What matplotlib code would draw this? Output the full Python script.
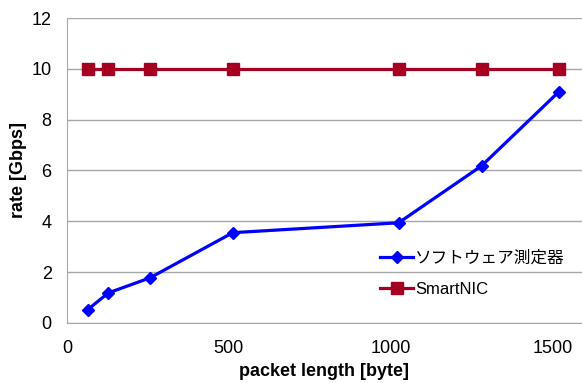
import matplotlib.pyplot as plt

plt.rcParams['font.family'] = ['Liberation Sans', 'Noto Sans CJK JP', 'DejaVu Sans']

# data
packet_len = [64, 128, 256, 512, 1024, 1280, 1518]
software = [0.52, 1.18, 1.77, 3.55, 3.94, 6.18, 9.09]
smartnic = [10, 10, 10, 10, 10, 10, 10]
x_ticks = [0, 500, 1000, 1500]
y_ticks = [0, 2, 4, 6, 8, 10, 12]

fig = plt.figure(figsize=(5.82, 3.83), dpi=100)
ax = fig.add_axes([0.115, 0.157, 0.885, 0.796])

ax.plot(packet_len, software, color='#0000ff', lw=2.3, marker='D',
        markersize=6.5, label='ソフトウェア測定器', zorder=3)
ax.plot(packet_len, smartnic, color='#a50021', lw=2.3, marker='s',
        markersize=8, label='SmartNIC', zorder=3)

ax.set_xlim(0, 1590)
ax.set_ylim(0, 12)
ax.set_xticks(x_ticks)
ax.set_yticks(y_ticks)
ax.grid(axis='y', color='#a6a6a6', lw=1)
ax.set_axisbelow(True)

for s in ['top', 'right']:
    ax.spines[s].set_visible(False)
for s in ['left', 'bottom']:
    ax.spines[s].set_color('#a6a6a6')
ax.tick_params(axis='x', length=0, labelsize=13, pad=12)
ax.tick_params(axis='y', length=0, labelsize=13, pad=11)

ax.set_xlabel('packet length [byte]', fontsize=13, fontweight='bold', labelpad=5)
ax.set_ylabel('rate [Gbps]', fontsize=13, fontweight='bold', labelpad=3)

ax.legend(loc='upper left', bbox_to_anchor=(0.653, 0.347), bbox_transform=fig.transFigure,
          frameon=False, fontsize=12, handlelength=2.0, handletextpad=0.1,
          labelspacing=1.0, borderaxespad=0, borderpad=0)

fig.savefig('out.png', dpi=100)
